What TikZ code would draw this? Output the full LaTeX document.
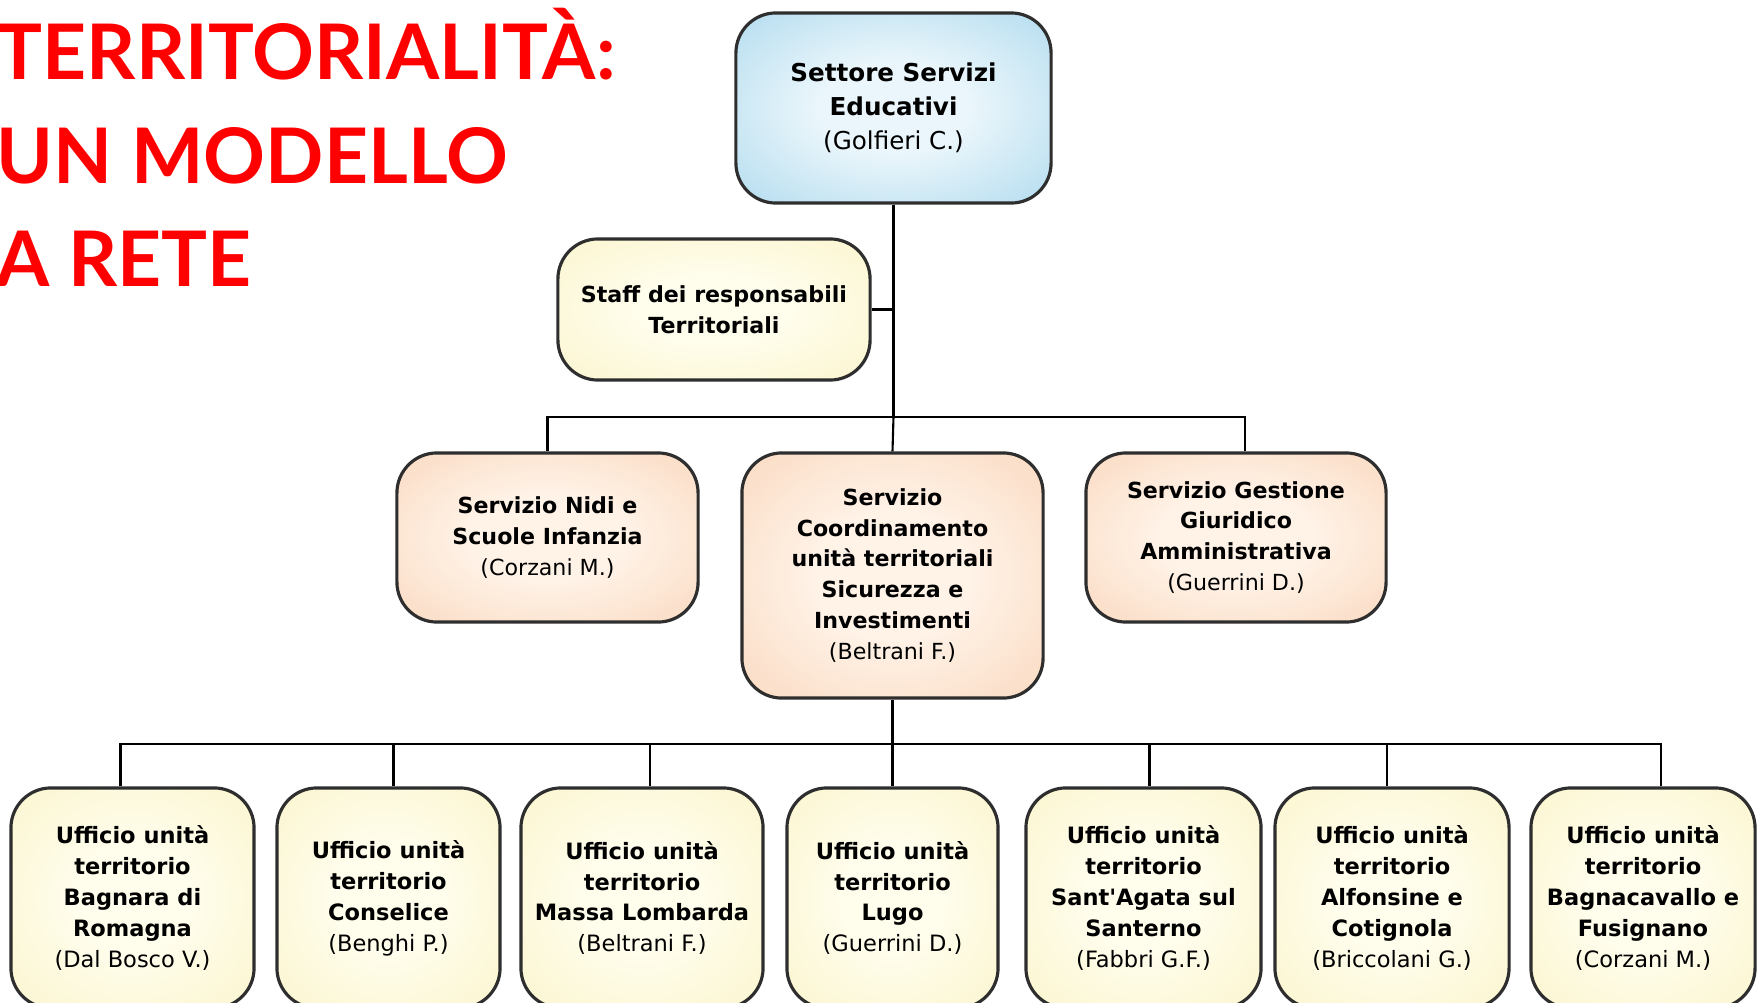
\documentclass[tikz,border=0pt]{standalone}
\usepackage{fontspec}
\setmainfont{DejaVu Sans}
\newfontfamily\titlefont{Lato}
\usetikzlibrary{calc}

\definecolor{rosso}{HTML}{FF0000}
\definecolor{azzurro}{HTML}{9CD1EA}
\definecolor{azzurrochiaro}{HTML}{EAF6FB}
\definecolor{giallo}{HTML}{F9F2C2}
\definecolor{giallochiaro}{HTML}{FFFDEC}
\definecolor{pesca}{HTML}{F8D0B2}
\definecolor{pescachiaro}{HTML}{FFF3E8}
\definecolor{bordo}{HTML}{2E2E2E}

% sfumatura chiara al centro, colore pieno sui bordi
\makeatletter
\pgfdeclareradialshading[tikz@radial@inner,tikz@radial@outer]{bagliore}{\pgfpointorigin}{%
  color(0bp)=(tikz@radial@inner); color(12bp)=(tikz@radial@inner);
  color(46bp)=(tikz@radial@outer); color(50bp)=(tikz@radial@outer)}
\makeatother

\newcommand{\persona}[1]{{\mdseries(#1)}}

\tikzset{
  box/.style={draw=bordo, line width=0.9pt, rounded corners=0.4cm, align=center, inner sep=0pt,
    font=\fontsize{6.3}{8.8}\selectfont\bfseries},
  blu/.style={box, inner color=azzurrochiaro, outer color=azzurro, shading=bagliore},
  gia/.style={box, inner color=giallochiaro, outer color=giallo, shading=bagliore},
  pes/.style={box, inner color=pescachiaro, outer color=pesca, shading=bagliore},
  ufficio/.style={gia, minimum height=2.2cm, font=\fontsize{6.4}{8.8}\selectfont\bfseries},
  linea/.style={line width=0.6pt, black},
  titolo/.style={anchor=base west, inner sep=0pt, text=rosso,
    font=\titlefont\bfseries\fontsize{21.8}{27}\selectfont},
}

\begin{document}
\begin{tikzpicture}[x=0.01cm, y=-0.01cm]
  \useasboundingbox (0,0) rectangle (1757,1003);
  \clip (0,0) rectangle (1757,1003);

  % titolo
  \node[titolo] (t1) at (-4,80) {TERRITORIALITÀ:};
  \node[titolo] (t2) at (-4,183) {UN MODELLO};
  \node[titolo] (t3) at (-4,286) {A RETE};

  % vertice
  \node[blu, minimum width=3.15cm, minimum height=1.9cm, font=\fontsize{7}{9.7}\selectfont\bfseries]
    (settore) at (893.5,108) {Settore Servizi\\Educativi\\\persona{Golfieri C.}};
  \node[gia, minimum width=3.12cm, minimum height=1.41cm] (staff) at (714,309.5)
    {Staff dei responsabili\\Territoriali};

  % servizi
  \node[pes, minimum width=3.01cm, minimum height=1.69cm] (nidi) at (547.5,537.5)
    {Servizio Nidi e\\Scuole Infanzia\\\persona{Corzani M.}};
  \node[pes, minimum width=3.01cm, minimum height=2.45cm] (coord) at (892.5,575.5)
    {Servizio\\Coordinamento\\unità territoriali\\Sicurezza e\\Investimenti\\\persona{Beltrani F.}};
  \node[pes, minimum width=3cm, minimum height=1.69cm] (gestione) at (1236,537.5)
    {Servizio Gestione\\Giuridico\\Amministrativa\\\persona{Guerrini D.}};

  % uffici territoriali
  \node[ufficio, minimum width=2.43cm] (u1) at (132.5,898)
    {Ufficio unità\\territorio\\Bagnara di\\Romagna\\\persona{Dal Bosco V.}};
  \node[ufficio, minimum width=2.23cm] (u2) at (388.5,898)
    {Ufficio unità\\territorio\\Conselice\\\persona{Benghi P.}};
  \node[ufficio, minimum width=2.42cm] (u3) at (642,898)
    {Ufficio unità\\territorio\\Massa Lombarda\\\persona{Beltrani F.}};
  \node[ufficio, minimum width=2.11cm] (u4) at (892.5,898)
    {Ufficio unità\\territorio\\Lugo\\\persona{Guerrini D.}};
  \node[ufficio, minimum width=2.35cm] (u5) at (1143.5,898)
    {Ufficio unità\\territorio\\Sant\textquotesingle Agata sul\\Santerno\\\persona{Fabbri G.F.}};
  \node[ufficio, minimum width=2.34cm] (u6) at (1392,898)
    {Ufficio unità\\territorio\\Alfonsine e\\Cotignola\\\persona{Briccolani G.}};
  \node[ufficio, minimum width=2.24cm] (u7) at (1643,898)
    {Ufficio unità\\territorio\\Bagnacavallo e\\Fusignano\\\persona{Corzani M.}};

  % collegamenti
  \coordinate (j1) at ($(settore.south)+(0,212)$);
  \coordinate (j2) at ($(coord.south)+(0,44)$);
  \draw[linea] (settore.south) -- (j1);
  \draw[linea] (staff.east) -- (staff.east -| settore.south);
  \draw[linea] (nidi.north) |- (j1);
  \draw[linea] (coord.north) -- (j1);
  \draw[linea] ($(gestione.north)+(9,0)$) |- (j1);
  \draw[linea] (coord.south) -- (j2);
  \foreach \u/\dx in {u1/-12,u2/5,u3/8,u4/0,u5/6,u6/-5,u7/18}
    \draw[linea] ($(\u.north)+(\dx,0)$) |- (j2);
\end{tikzpicture}
\end{document}
